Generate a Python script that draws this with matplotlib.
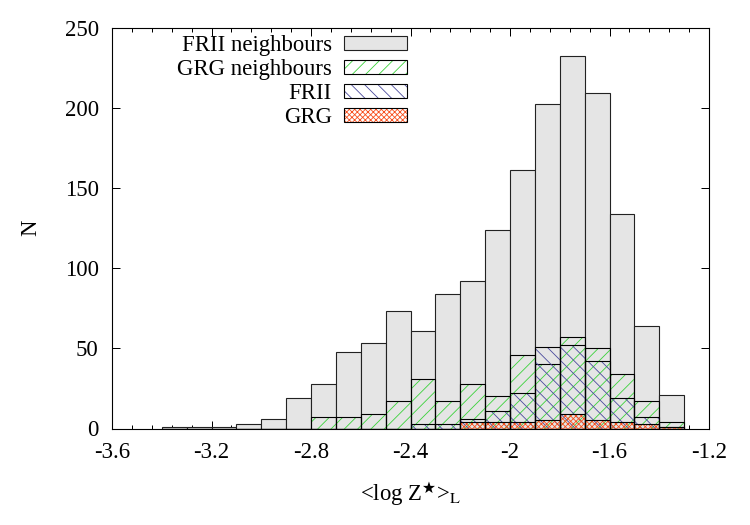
import matplotlib
matplotlib.use("Agg")
import matplotlib.pyplot as plt
from matplotlib.patches import Patch
from matplotlib.legend_handler import HandlerTuple
from matplotlib.ticker import MultipleLocator, FixedLocator

# ---- data ----
bin_left = [-3.4, -3.3, -3.2, -3.1, -3.0, -2.9, -2.8, -2.7, -2.6, -2.5, -2.4,
            -2.3, -2.2, -2.1, -2.0, -1.9, -1.8, -1.7, -1.6, -1.5, -1.4]
frii_neighbours = [1, 1, 1, 3, 6, 19, 28, 48, 53, 73, 61,
                   84, 92, 124, 161, 202, 232, 209, 134, 64, 21]
grg_neighbours = [0, 0, 0, 0, 0, 0, 7, 7, 9, 17, 31,
                  17, 28, 20, 46, 40, 57, 50, 34, 17, 4]
frii = [0, 0, 0, 0, 0, 0, 0, 0, 0, 0, 3,
        3, 6, 11, 22, 51, 52, 42, 19, 7, 1]
grg = [0, 0, 0, 0, 0, 0, 0, 0, 0, 0, 0,
       0, 4, 4, 4, 5, 9, 5, 4, 3, 1]
bin_width = 0.1

x_ticks = [-3.6, -3.2, -2.8, -2.4, -2.0, -1.6, -1.2]
x_tick_labels = ["-3.6", "-3.2", "-2.8", "-2.4", "-2", "-1.6", "-1.2"]
y_ticks = [0, 50, 100, 150, 200, 250]
labels = ["FRII neighbours", "GRG neighbours", "FRII", "GRG"]

# ---- style ----
DPI = 80
FS = 20.5
plt.rcParams['font.family'] = ['Liberation Serif', 'DejaVu Serif']
plt.rcParams['mathtext.fontset'] = 'stix'
plt.rcParams['hatch.linewidth'] = 0.75

gray = '#e5e5e5'
green = '#3ad23a'
blue = '#4a4a9c'
red = '#f8501e'

fig = plt.figure(figsize=(750 / DPI, 525 / DPI), dpi=DPI)
ax = fig.add_axes([112 / 750, 1 - 428.5 / 525, (709 - 112) / 750, (428.5 - 27.5) / 525])

ax.bar(bin_left, frii_neighbours, width=bin_width, align='edge',
       facecolor=gray, edgecolor='#222222', linewidth=1.0, zorder=2)

hatched = [(grg_neighbours, green, '//'), (frii, blue, '\\\\'), (grg, red, 'xxxxx')]
z = 3
for vals, col, h in hatched:
    ax.bar(bin_left, vals, width=bin_width, align='edge', facecolor='none',
           edgecolor=col, hatch=h, linewidth=0, zorder=z)
    ax.bar(bin_left, vals, width=bin_width, align='edge', facecolor='none',
           edgecolor='black', linewidth=1.0, zorder=z + 0.5)
    z += 1

ax.set_xlim(-3.6, -1.2)
ax.set_ylim(0, 250)
ax.xaxis.set_major_locator(FixedLocator(x_ticks))
ax.set_xticklabels(x_tick_labels)
ax.xaxis.set_minor_locator(MultipleLocator(0.08))
ax.yaxis.set_major_locator(FixedLocator(y_ticks))
ax.tick_params(which='both', direction='in', top=True, right=True,
               labelsize=FS, width=0.9)
ax.tick_params(axis='x', which='major', pad=12)
ax.tick_params(axis='y', which='major', pad=12)
ax.tick_params(which='major', length=7)
ax.tick_params(which='minor', length=3.5)
for s in ax.spines.values():
    s.set_linewidth(1.0)

ax.set_ylabel('N', fontsize=FS, labelpad=21)
ax.set_xlabel(r'<log Z$^{\bigstar}$>$_{\mathrm{L}}$', fontsize=FS, labelpad=15)

# legend handles
handles = [Patch(facecolor=gray, edgecolor='#222222', linewidth=1.0)]
for vals, col, h in hatched:
    handles.append((Patch(facecolor='white', edgecolor=col, hatch=h, linewidth=0),
                    Patch(facecolor='none', edgecolor='black', linewidth=1.0)))
leg = ax.legend(handles, labels, loc='upper right',
                bbox_to_anchor=((407 - 112) / 597, (428.5 - 35) / 401),
                frameon=False, markerfirst=False, fontsize=FS,
                handlelength=2.75, handleheight=0.55, labelspacing=0.13,
                handletextpad=0.55, borderaxespad=0, borderpad=0,
                handler_map={tuple: HandlerTuple(ndivide=1)})
for t in leg.get_texts():
    t.set_ha('right')
leg._legend_box.align = 'right'

fig.savefig('out.png', dpi=DPI)
